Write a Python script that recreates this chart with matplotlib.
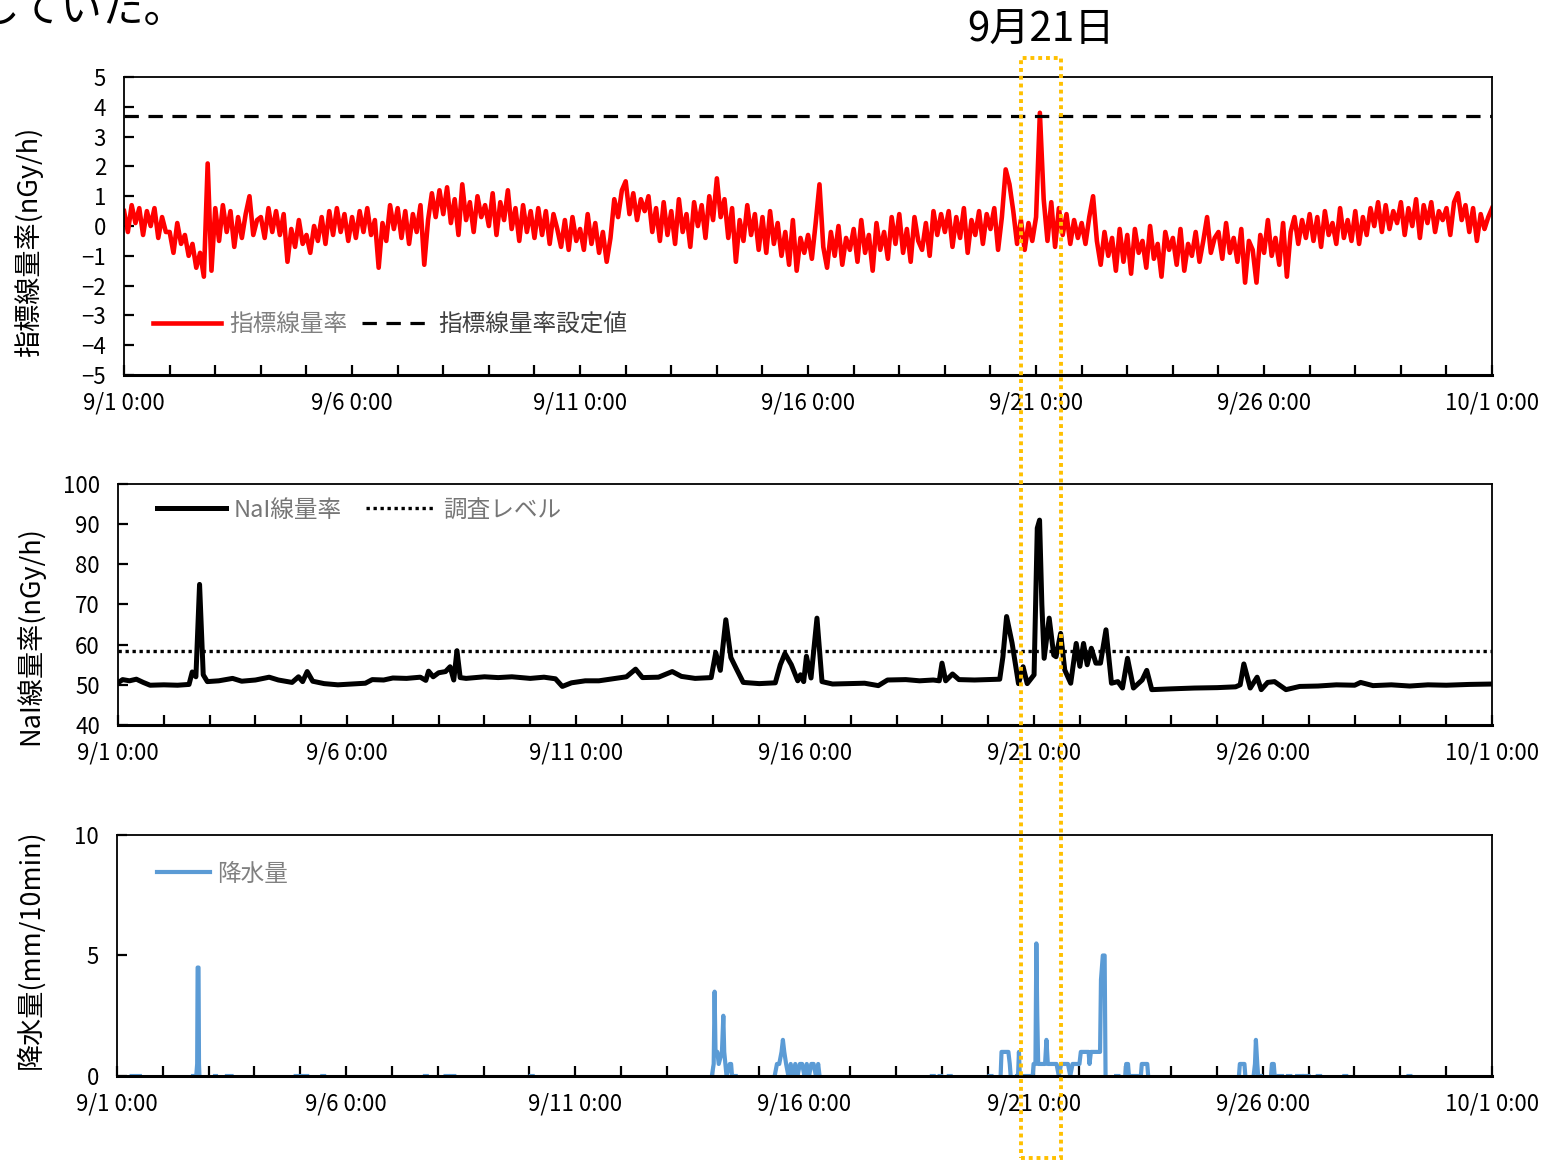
import numpy as np
import matplotlib
matplotlib.use('Agg')
import matplotlib.pyplot as plt
import matplotlib.dates as mdates
from matplotlib.patches import Rectangle
from matplotlib.ticker import FuncFormatter, MultipleLocator
from datetime import datetime, timedelta

plt.rcParams['font.family'] = ['Noto Sans CJK JP', 'DejaVu Sans']

# ---- data ----
start = datetime(2022, 9, 1)
end = datetime(2022, 10, 1)

# indicator dose rate, one value every 2 hours (12 per day), 9/1 0:00 .. 10/1 0:00
index_rate = [
    0.5, -0.2, 0.7, 0.1, 0.6, -0.3, 0.5, 0.0, 0.6, -0.4, 0.3, -0.2,
    -0.2, -0.9, 0.1, -0.6, -0.3, -1.0, -0.6, -1.4, -0.9, -1.7, 2.1, -1.5,
    0.6, -0.5, 0.7, -0.2, 0.5, -0.7, 0.3, -0.4, 0.4, 1.0, -0.3, 0.2,
    0.3, -0.4, 0.6, -0.2, 0.5, -0.3, 0.4, -1.2, -0.1, -0.7, 0.2, -0.6,
    -0.3, -0.9, 0.0, -0.5, 0.3, -0.6, 0.5, -0.3, 0.6, -0.2, 0.4, -0.5,
    0.3, -0.4, 0.5, -0.2, 0.6, -0.3, 0.2, -1.4, 0.1, -0.5, 0.7, -0.1,
    0.6, -0.4, 0.5, -0.6, 0.4, -0.2, 0.7, -1.3, 0.2, 1.1, 0.3, 1.2,
    0.4, 1.3, 0.1, 0.9, -0.3, 1.4, 0.2, 0.8, -0.2, 1.0, 0.3, 0.7,
    0.0, 1.1, -0.3, 0.8, 0.2, 1.2, -0.1, 0.6, -0.5, 0.7, -0.2, 0.5,
    -0.4, 0.6, -0.3, 0.5, -0.6, 0.4, -0.1, -0.7, 0.2, -0.8, 0.3, -0.5,
    -0.1, -0.8, 0.4, -0.6, 0.1, -0.9, -0.2, -1.2, -0.4, 0.9, 0.3, 1.2,
    1.5, 0.4, 1.1, 0.2, 0.9, 0.5, 1.0, -0.2, 0.6, -0.5, 0.8, -0.3,
    0.5, -0.6, 0.9, -0.2, 0.4, -0.7, 0.8, 0.0, 0.7, -0.4, 1.0, 0.2,
    1.6, 0.3, 0.9, -0.4, 0.6, -1.2, 0.2, -0.5, 0.7, -0.3, 0.4, -0.8,
    0.3, -0.9, 0.5, -0.6, 0.1, -1.0, -0.2, -1.3, 0.2, -1.5, -0.4, -0.9,
    -0.3, -1.1, 0.1, 1.4, -0.7, -1.4, -0.2, -1.0, 0.0, -1.3, -0.4, -0.8,
    -0.1, -1.2, 0.2, -0.9, -0.3, -1.5, 0.1, -0.8, -0.2, -1.1, 0.3, -0.6,
    0.4, -0.9, -0.1, -1.2, 0.3, -0.5, -0.8, 0.1, -1.0, 0.5, -0.3, 0.4,
    -0.2, 0.5, -0.7, 0.3, -0.4, 0.6, -0.9, 0.2, -0.3, 0.5, -0.6, 0.4,
    -0.1, 0.6, -0.8, 0.3, 1.9, 1.4, 0.5, -0.6, 0.2, -0.8, 0.1, -0.5,
    0.3, 3.8, 0.9, -0.5, 0.8, -0.7, 0.6, -0.3, 0.4, -0.6, 0.2, -0.4,
    0.1, -0.6, 0.3, 1.0, -0.5, -1.3, -0.2, -1.0, -0.4, -1.5, -0.1, -1.2,
    -0.3, -1.6, -0.1, -0.9, -0.5, -1.4, 0.0, -1.1, -0.6, -1.7, -0.2, -0.8,
    -0.4, -1.3, -0.1, -1.5, -0.6, -1.0, -0.2, -1.2, -0.5, 0.3, -0.9, -0.4,
    -0.2, -1.1, 0.1, -0.9, -0.4, -1.2, -0.1, -1.9, -0.5, -0.8, -1.9, -0.3,
    -0.9, 0.2, -1.0, -0.4, -1.3, 0.1, -1.7, -0.2, 0.3, -0.6, 0.2, -0.4,
    0.4, -0.5, 0.3, -0.7, 0.5, -0.3, 0.1, -0.6, 0.6, -0.4, 0.2, -0.5,
    0.5, -0.6, 0.3, -0.3, 0.6, 0.0, 0.8, -0.2, 0.7, -0.1, 0.5, 0.1,
    0.8, -0.3, 0.6, 0.0, 0.9, -0.4, 0.7, 0.1, 0.8, -0.2, 0.5, 0.2,
    0.6, -0.3, 0.8, 1.1, 0.2, 0.7, -0.2, 0.6, -0.5, 0.4, -0.1, 0.3,
    0.6,
]
index_setting = 3.7

# NaI dose rate, (day offset from 9/1 0:00, nGy/h)
nai_day = [
    0.0, 0.1, 0.25, 0.4, 0.55, 0.7, 1.0, 1.3, 1.55, 1.62, 1.7, 1.78, 1.86, 1.95,
    2.2, 2.5, 2.7, 3.0, 3.3, 3.5, 3.8, 3.94, 4.03, 4.13, 4.25, 4.5, 4.8, 5.1,
    5.4, 5.55, 5.8, 6.0, 6.3, 6.6, 6.72, 6.78, 6.88, 7.0, 7.15, 7.25, 7.33, 7.4,
    7.47, 7.6, 8.0, 8.3, 8.6, 9.0, 9.3, 9.55, 9.7, 9.9, 10.2, 10.5, 10.8, 11.1,
    11.3, 11.45, 11.8, 12.1, 12.3, 12.6, 12.95, 13.05, 13.15, 13.27, 13.38, 13.5,
    13.65, 14.0, 14.35, 14.46, 14.56, 14.7, 14.84, 14.9, 14.97, 15.03, 15.13,
    15.26, 15.37, 15.6, 16.0, 16.3, 16.6, 16.8, 17.2, 17.5, 17.8, 17.93, 17.99,
    18.07, 18.22, 18.36, 18.7, 19.0, 19.25, 19.32, 19.4, 19.52, 19.66, 19.76,
    19.85, 20.0, 20.07, 20.12, 20.17, 20.22, 20.33, 20.43, 20.48, 20.58, 20.67,
    20.8, 20.92, 21.0, 21.08, 21.16, 21.25, 21.35, 21.45, 21.57, 21.69, 21.83,
    21.93, 22.04, 22.17, 22.36, 22.46, 22.57, 23.0, 23.5, 24.0, 24.4, 24.5,
    24.58, 24.72, 24.87, 24.96, 25.1, 25.25, 25.5, 25.8, 26.2, 26.6, 27.0,
    27.13, 27.4, 27.8, 28.2, 28.6, 29.0, 29.5, 30.0,
]
nai_rate = [
    50.5, 51.3, 51.0, 51.4, 50.6, 49.9, 50.0, 49.9, 50.1, 53.2, 52.0, 75.0, 52.5, 50.8,
    51.0, 51.6, 50.9, 51.2, 51.9, 51.2, 50.6, 52.0, 50.8, 53.3, 50.9, 50.3, 50.0, 50.2,
    50.4, 51.3, 51.2, 51.7, 51.6, 51.9, 51.1, 53.4, 52.0, 53.0, 53.3, 54.5, 51.2, 58.5,
    51.8, 51.6, 52.0, 51.8, 52.0, 51.6, 51.9, 51.5, 49.6, 50.5, 51.0, 51.0, 51.5, 52.0,
    53.9, 51.8, 51.9, 53.3, 52.1, 51.6, 51.8, 58.0, 53.6, 66.2, 56.8, 54.0,
    50.6, 50.3, 50.5, 55.0, 57.8, 55.0, 51.0, 52.5, 50.8, 57.1, 51.7,
    66.6, 50.8, 50.2, 50.3, 50.4, 49.8, 51.2, 51.3, 51.0, 51.2, 51.0, 55.4,
    51.0, 52.7, 51.3, 51.2, 51.3, 51.4, 57.0, 67.0, 60.4, 50.3, 54.5,
    50.3, 52.5, 89.0, 91.0, 70.0, 56.6, 66.6, 57.4, 57.0, 62.8, 53.7,
    50.4, 60.3, 54.6, 60.3, 55.0, 59.1, 55.4, 55.4, 63.7, 50.4, 50.8,
    49.2, 56.6, 49.2, 51.2, 53.6, 48.8, 49.0, 49.2, 49.3, 49.5, 50.0,
    55.2, 49.2, 51.9, 48.8, 50.6, 50.8, 48.8, 49.6, 49.7, 50.0, 49.9,
    50.6, 49.8, 50.0, 49.7, 50.0, 49.9, 50.1, 50.2,
]
survey_level = 58.5

# precipitation (day offset, mm/10min); nan separates rain events
rain_day = [
    0.32, 0.5, np.nan,
    1.66, 1.73, 1.75, 1.76, 1.78, 1.79, 1.8, np.nan,
    2.14, 2.16, np.nan, 2.4, 2.5, np.nan, 3.9, 4.15, np.nan, 4.48, 4.52, np.nan,
    6.72, 6.76, np.nan, 7.17, 7.22, np.nan, 7.3, 7.36, np.nan, 9.03, 9.07, np.nan,
    12.98, 13.02, 13.04, 13.06, 13.1, 13.13, 13.2, 13.23, 13.25, 13.3, 13.37, 13.4,
    13.42, 13.5, np.nan,
    14.35, 14.4, 14.45, 14.5, 14.53, 14.56, 14.6, 14.65, 14.7, 14.75, 14.8, 14.85,
    14.9, 14.95, 15.0, 15.05, 15.1, 15.15, 15.2, 15.25, 15.3, 15.33, np.nan,
    17.78, 17.82, np.nan, 17.95, 17.98, np.nan, 18.15, 18.19, np.nan,
    19.04, 19.08, np.nan,
    19.28, 19.3, 19.45, 19.48, 19.5, np.nan, 19.64, 19.66, 19.68, 19.7, 19.98,
    20.0, 20.04, 20.06, 20.08, 20.1, 20.25, 20.28, 20.31, 20.5, 20.55, 20.6, 20.75,
    20.8, 20.85, 21.0, 21.03, 21.2, 21.22, 21.25, 21.45, 21.47, 21.51, 21.55,
    21.57, np.nan,
    21.8, 21.85, np.nan, 22.0, 22.02, 22.06, 22.08, np.nan, 22.15, 22.25, np.nan,
    22.34, 22.36, 22.48, 22.5, np.nan,
    24.48, 24.5, 24.6, 24.62, np.nan, 24.8, 24.83, 24.85, 24.88, 24.9, 24.96, np.nan,
    25.18, 25.2, 25.24, 25.26, np.nan, 25.35, 25.42, np.nan, 25.55, 25.6, np.nan,
    25.75, 25.85, np.nan, 25.9, 26.0, np.nan, 26.2, 26.25, np.nan,
    26.78, 26.82, np.nan, 28.18, 28.22,
]
rain_mm = [
    0.0, 0.0, np.nan,
    0.0, 0.0, 0.5, 4.5, 4.5, 0.5, 0.0, np.nan,
    0.0, 0.0, np.nan, 0.0, 0.0, np.nan, 0.0, 0.0, np.nan, 0.0, 0.0, np.nan,
    0.0, 0.0, np.nan, 0.0, 0.0, np.nan, 0.0, 0.0, np.nan, 0.0, 0.0, np.nan,
    0.0, 0.5, 3.5, 1.0, 1.0, 0.5, 1.0, 2.5, 1.0, 0.0, 0.5, 0.5,
    0.0, 0.0, np.nan,
    0.0, 0.5, 0.5, 1.0, 1.5, 1.0, 0.5, 0.0, 0.5, 0.0, 0.5, 0.0,
    0.5, 0.5, 0.0, 0.5, 0.0, 0.5, 0.5, 0.0, 0.5, 0.0, np.nan,
    0.0, 0.0, np.nan, 0.0, 0.0, np.nan, 0.0, 0.0, np.nan,
    0.0, 0.0, np.nan,
    0.0, 1.0, 1.0, 0.5, 0.0, np.nan, 0.0, 0.0, 1.0, 0.0, 0.0,
    0.5, 0.5, 5.5, 2.5, 0.5, 0.5, 1.5, 0.5, 0.5, 0.0, 0.5, 0.5,
    0.0, 0.5, 0.5, 1.0, 1.0, 0.5, 1.0, 1.0, 4.0, 5.0, 5.0,
    0.0, np.nan,
    0.0, 0.0, np.nan, 0.0, 0.5, 0.5, 0.0, np.nan, 0.0, 0.0, np.nan,
    0.0, 0.5, 0.5, 0.0, np.nan,
    0.0, 0.5, 0.5, 0.0, np.nan, 0.0, 0.5, 1.5, 0.5, 0.0, 0.0, np.nan,
    0.0, 0.5, 0.5, 0.0, np.nan, 0.0, 0.0, np.nan, 0.0, 0.0, np.nan,
    0.0, 0.0, np.nan, 0.0, 0.0, np.nan, 0.0, 0.0, np.nan,
    0.0, 0.0, np.nan, 0.0, 0.0,
]

# highlighted period
hl_start = datetime(2022, 9, 20, 16)
hl_end = datetime(2022, 9, 21, 13)


def to_dates(days):
    return [start + timedelta(days=float(d)) if not np.isnan(d) else start for d in days]


index_time = [start + timedelta(hours=2 * i) for i in range(len(index_rate))]
nai_time = to_dates(nai_day)
rain_time = to_dates(rain_day)
rain_vals = np.array(rain_mm, dtype=float)

fig = plt.figure(figsize=(15.47, 11.6), dpi=100)
ax1 = fig.add_axes([0.0802, 0.6767, 0.8843, 0.2569])
ax2 = fig.add_axes([0.0763, 0.375, 0.8882, 0.2078])
ax3 = fig.add_axes([0.0756, 0.0724, 0.8888, 0.2078])


def fmt_date(x, pos):
    d = mdates.num2date(x)
    return f"{d.month}/{d.day} {d.hour}:{d.minute:02d}"


def style_axis(ax):
    ax.set_xlim(start, end)
    ax.xaxis.set_major_locator(mdates.DayLocator(bymonthday=[1, 6, 11, 16, 21, 26]))
    ax.xaxis.set_minor_locator(mdates.DayLocator())
    ax.xaxis.set_major_formatter(FuncFormatter(fmt_date))
    ax.tick_params(which='both', direction='in', length=7, width=1.6, color='black')
    ax.tick_params(axis='x', pad=12, labelsize=16)
    ax.tick_params(axis='y', pad=13, labelsize=16)
    for side in ['top', 'left', 'right']:
        ax.spines[side].set_linewidth(1.3)
    ax.spines['bottom'].set_linewidth(2.2)


# top panel
ax1.plot(index_time, index_rate, color='#FF0000', lw=3.3, label='指標線量率')
ax1.axhline(index_setting, color='black', lw=2.3, ls=(0, (4.5, 3)), label='指標線量率設定値')
ax1.set_ylim(-5, 5)
ax1.yaxis.set_major_locator(MultipleLocator(1))
style_axis(ax1)
ax1.set_ylabel('指標線量率(nGy/h)', fontsize=19.5)
ax1.yaxis.set_label_coords(-0.059, 0.446)
leg1 = ax1.legend(loc='center left', bbox_to_anchor=(0.021, 0.168), ncol=2, frameon=False,
                  fontsize=17, handlelength=2.9, handletextpad=0.35, columnspacing=0.6,
                  borderpad=0, borderaxespad=0)
leg1.get_texts()[0].set_color('#808080')
leg1.get_texts()[1].set_color('#404040')

# middle panel
ax2.plot(nai_time, nai_rate, color='black', lw=3.6, label='NaI線量率')
ax2.axhline(survey_level, color='black', lw=2.4, ls=(0, (1, 1.1)), label='調査レベル')
ax2.set_ylim(40, 100)
ax2.yaxis.set_major_locator(MultipleLocator(10))
style_axis(ax2)
ax2.set_ylabel('NaI線量率(nGy/h)', fontsize=19.5)
ax2.yaxis.set_label_coords(-0.054, 0.373)
leg2 = ax2.legend(loc='center left', bbox_to_anchor=(0.028, 0.892), ncol=2, frameon=False,
                  fontsize=17, handlelength=2.95, handletextpad=0.3, columnspacing=1.05,
                  borderpad=0, borderaxespad=0)
for t in leg2.get_texts():
    t.set_color('#767676')

# bottom panel
ax3.plot(rain_time, rain_vals, color='#5B9BD5', lw=3.0, label='降水量')
ax3.set_ylim(0, 10)
ax3.yaxis.set_major_locator(MultipleLocator(5))
style_axis(ax3)
ax3.set_ylabel('降水量(mm/10min)', fontsize=19.5)
ax3.yaxis.set_label_coords(-0.053, 0.527)
leg3 = ax3.legend(loc='center left', bbox_to_anchor=(0.029, 0.838), frameon=False,
                  fontsize=17, handlelength=2.25, handletextpad=0.3,
                  borderpad=0, borderaxespad=0)
for t in leg3.get_texts():
    t.set_color('#808080')

# highlight box spanning all panels
inv = fig.transFigure.inverted()
x0 = inv.transform(ax1.transData.transform((mdates.date2num(hl_start), 0)))[0]
x1 = inv.transform(ax1.transData.transform((mdates.date2num(hl_end), 0)))[0]
box = Rectangle((x0, 0.002), x1 - x0, 0.948, transform=fig.transFigure, fill=False,
                edgecolor='#FFC000', lw=2.8, ls=(0, (1, 1)), zorder=10)
fig.add_artist(box)
fig.text((x0 + x1) / 2, 0.974, '9月21日', ha='center', va='center', fontsize=29)

# cut-off sentence from the surrounding document
fig.text(-0.015, 0.981, 'していた。', ha='left', va='baseline', fontsize=30)

fig.savefig('out.png', dpi=100)
